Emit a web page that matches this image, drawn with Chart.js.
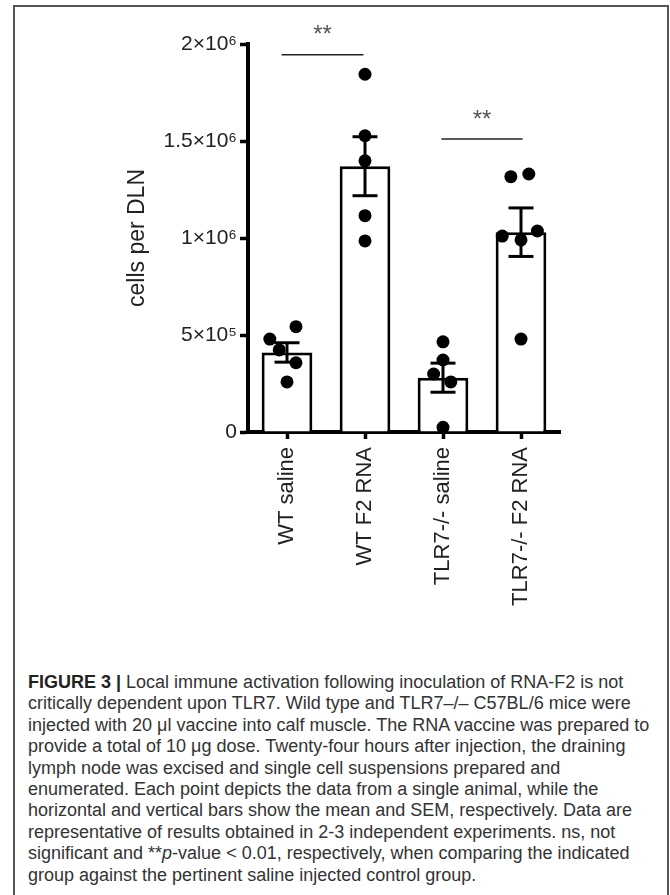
<!DOCTYPE html>
<html><head><meta charset="utf-8">
<script src="https://cdn.jsdelivr.net/npm/chart.js@4.4.0/dist/chart.umd.min.js"></script>
<style>
html,body{margin:0;padding:0;background:#fff;width:670px;height:895px;overflow:hidden;}
#frame{position:absolute;left:13px;top:5px;width:656px;height:900px;border:2px solid #555;border-bottom:none;box-sizing:border-box;}
#wrap{position:absolute;left:0;top:0;width:670px;height:640px;}
#caption{position:absolute;left:28px;top:672px;font-family:"Liberation Sans",Arial,sans-serif;font-size:18px;line-height:21.4px;color:#333;white-space:nowrap;}
#caption b{color:#222;}
</style></head><body>
<div id="frame"></div>
<div id="wrap"><canvas id="c" width="670" height="640"></canvas></div>
<div id="caption"><b>FIGURE 3 |</b> Local immune activation following inoculation of RNA-F2 is not<br>critically dependent upon TLR7. Wild type and TLR7–/– C57BL/6 mice were<br>injected with 20 μl vaccine into calf muscle. The RNA vaccine was prepared to<br>provide a total of 10 μg dose. Twenty-four hours after injection, the draining<br>lymph node was excised and single cell suspensions prepared and<br>enumerated. Each point depicts the data from a single animal, while the<br>horizontal and vertical bars show the mean and SEM, respectively. Data are<br>representative of results obtained in 2-3 independent experiments. ns, not<br>significant and **<i>p</i>-value &lt; 0.01, respectively, when comparing the indicated<br>group against the pertinent saline injected control group.</div>
<script>
// ---- data ----
const categories = ['WT saline', 'WT F2 RNA', 'TLR7-/- saline', 'TLR7-/- F2 RNA'];
const barMeans = [410000, 1370000, 280000, 1030000];
const barSEM = [50000, 152000, 75000, 125000];
const wtSaline = [543000, 479000, 423000, 357000, 258000];
const wtF2 = [1844000, 1527000, 1398000, 1115000, 985000];
const tlrSaline = [465000, 371000, 299000, 258000, 24000];
const tlrF2 = [1316000, 1330000, 1010000, 990000, 1036000, 479000];
const wtSalineJitter = [0.115, -0.22, -0.10, 0.115, 0];
const wtF2Jitter = [0, 0, 0, 0, 0];
const tlrSalineJitter = [0, 0, -0.12, 0.10, 0];
const tlrF2Jitter = [-0.13, 0.10, -0.24, 0, 0.21, 0];
const yTickValues = [0, 500000, 1000000, 1500000, 2000000];
const yTickLabels = ['0', '5×10⁵', '1×10⁶', '1.5×10⁶', '2×10⁶'];
const sigFrom = [-0.07, 1.98];
const sigTo = [0.98, 3.02];
const sigY = [1945000, 1510000];
const sigText = ['**', '**'];
const sigTextY = [2080000, 1645000];

const FONT = '"Liberation Sans", Arial, sans-serif';
const groups = [wtSaline, wtF2, tlrSaline, tlrF2];
const jitters = [wtSalineJitter, wtF2Jitter, tlrSalineJitter, tlrF2Jitter];

const datasets = [];
datasets.push({
  type: 'bar', data: barMeans, xAxisID: 'x', yAxisID: 'y',
  backgroundColor: '#fff', borderColor: '#000', borderWidth: 3,
  barPercentage: 0.65, categoryPercentage: 1, grouped: false, order: 5
});
const CAP = 0.16;
function seg(pts, w, color, order) {
  datasets.push({
    type: 'line', data: pts, xAxisID: 'x2', yAxisID: 'y',
    borderColor: color, borderWidth: w, pointRadius: 0, fill: false,
    tension: 0, order: order, clip: false
  });
}
barMeans.forEach((m, i) => {
  const lo = m - barSEM[i], hi = m + barSEM[i];
  seg([{x: i, y: lo}, {x: i, y: hi}], 3, '#000', 3);
  seg([{x: i - CAP, y: hi}, {x: i + CAP, y: hi}], 3, '#000', 3);
  seg([{x: i - CAP, y: lo}, {x: i + CAP, y: lo}], 3, '#000', 3);
});
sigFrom.forEach((f, k) => {
  seg([{x: f, y: sigY[k]}, {x: sigTo[k], y: sigY[k]}], 1.5, '#222', 3);
});
const pts = [];
groups.forEach((g, i) => g.forEach((v, j) => pts.push({x: i + jitters[i][j], y: v})));
datasets.push({
  type: 'scatter', data: pts, xAxisID: 'x2', yAxisID: 'y',
  backgroundColor: '#000', borderColor: '#000', borderWidth: 0,
  pointRadius: 6.5, clip: false, order: 1
});

const starsPlugin = {
  id: 'stars',
  afterDatasetsDraw(chart) {
    const {ctx} = chart;
    const xs = chart.scales.x2, ys = chart.scales.y;
    ctx.save();
    ctx.font = '24px ' + FONT;
    ctx.fillStyle = '#555';
    ctx.textAlign = 'center';
    ctx.textBaseline = 'alphabetic';
    sigText.forEach((t, k) => {
      const cx = xs.getPixelForValue((sigFrom[k] + sigTo[k]) / 2);
      const cy = ys.getPixelForValue(sigTextY[k]);
      ctx.fillText(t, cx, cy + 0.57 * 24);
    });
    ctx.restore();
  }
};

new Chart(document.getElementById('c'), {
  type: 'bar',
  data: {labels: categories, datasets},
  options: {
    responsive: false,
    animation: false,
    layout: {padding: {left: 124, top: 44, right: 110, bottom: 0}},
    plugins: {legend: {display: false}, tooltip: {enabled: false}},
    scales: {
      x: {
        type: 'category', offset: true,
        grid: {display: true, drawOnChartArea: false, drawTicks: true, tickLength: 7, tickWidth: 3.5, tickColor: '#000', offset: false},
        border: {display: true, color: '#000', width: 4},
        ticks: {color: '#222', font: {family: FONT, size: 22}, maxRotation: 90, minRotation: 90, padding: 8, autoSkip: false},
        afterFit: s => { s.height = 208; }
      },
      x2: {type: 'linear', display: false, offset: false, grid: {offset: false}, min: -0.5, max: 3.5},
      y: {
        min: 0, max: 2000000,
        afterBuildTicks: s => { s.ticks = yTickValues.map(v => ({value: v})); },
        ticks: {color: '#222', font: {family: FONT, size: 21}, padding: 3,
          callback: v => yTickLabels[yTickValues.indexOf(v)]},
        grid: {display: true, drawOnChartArea: false, drawTicks: true, tickLength: 8, tickWidth: 3.5, tickColor: '#000'},
        border: {display: true, color: '#000', width: 4},
        title: {display: true, text: 'cells per DLN', color: '#222', font: {family: FONT, size: 23}, padding: {top: 0, bottom: 0}},
        afterFit: s => { s.width = 124; }
      }
    }
  },
  plugins: [starsPlugin]
});
</script>
</body></html>
